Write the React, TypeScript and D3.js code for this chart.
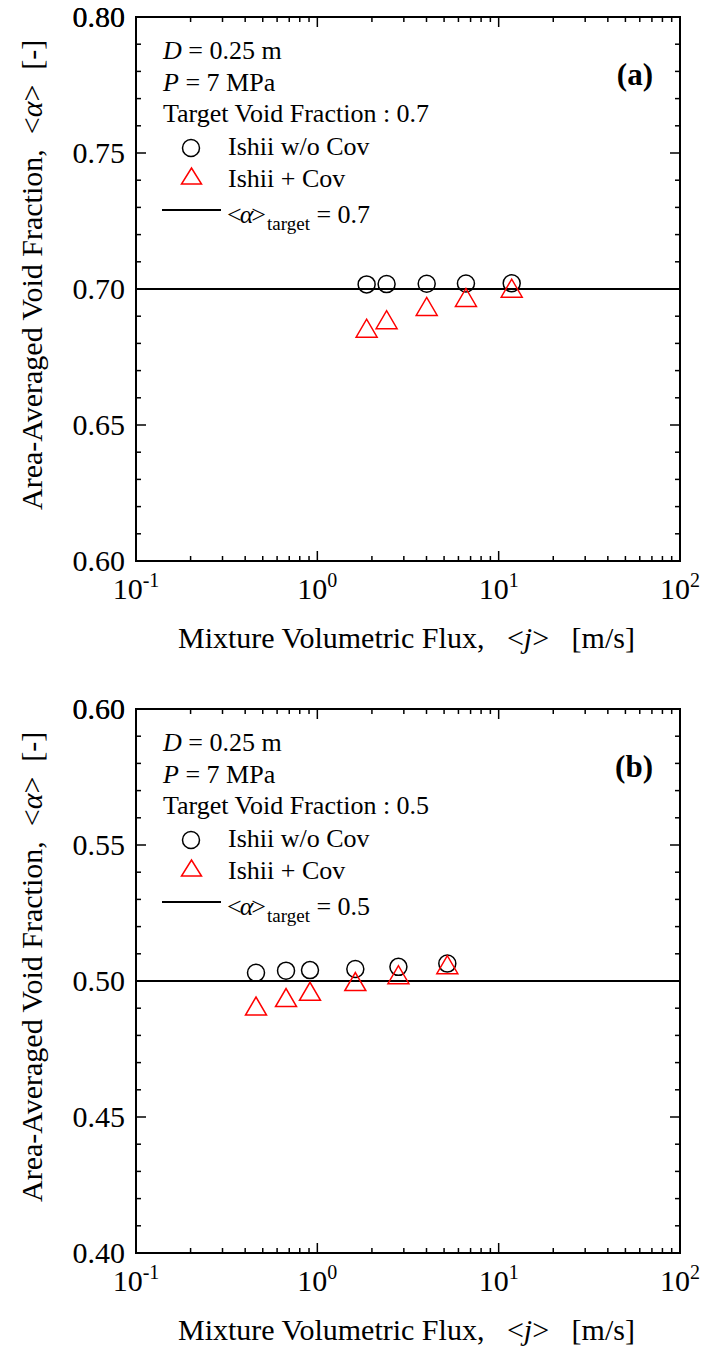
import React from "react";
import * as d3 from "d3";

// ---------- data ----------
const X_DECADES = [0.1, 1, 10, 100];
const X_SUPERS = ["-1", "0", "1", "2"];

const A_FLUX = [1.87, 2.41, 4.01, 6.6, 11.8];
const A_WO_COV = [0.7017, 0.7018, 0.7019, 0.702, 0.7021];
const A_WITH_COV = [0.6856, 0.6887, 0.6936, 0.6969, 0.7003];
const A_TARGET = 0.7;
const A_YDOMAIN: [number, number] = [0.6, 0.8];

const B_FLUX = [0.459, 0.672, 0.911, 1.62, 2.8, 5.21];
const B_WO_COV = [0.503, 0.5038, 0.504, 0.5044, 0.5052, 0.5064];
const B_WITH_COV = [0.4908, 0.4939, 0.4962, 0.4998, 0.5023, 0.506];
const B_TARGET = 0.5;
const B_YDOMAIN: [number, number] = [0.4, 0.6];

const LEGEND_D = "0.25 m";
const LEGEND_P = "7 MPa";
const SERIES_NAMES = ["Ishii w/o Cov", "Ishii + Cov"];

// ---------- layout ----------
const W = 704;
const H = 1348;
const LEFT = 136;
const PW = 544;
const PH = 544;
const FONT = "Liberation Serif, Times New Roman, serif";

type PanelProps = {
  top: number;
  yDomain: [number, number];
  flux: number[];
  woCov: number[];
  withCov: number[];
  target: number;
  tag: string;
};

function triPath(cx: number, cy: number, w: number, h: number) {
  return `M${cx - w / 2},${cy + h / 2}L${cx + w / 2},${cy + h / 2}L${cx},${cy - h / 2}Z`;
}

function Panel({ top, yDomain, flux, woCov, withCov, target, tag }: PanelProps) {
  const x = d3.scaleLog().domain([0.1, 100]).range([LEFT, LEFT + PW]);
  const y = d3.scaleLinear().domain(yDomain).range([top + PH, top]);
  const bottom = top + PH;
  const right = LEFT + PW;

  const xMinor: number[] = [];
  X_DECADES.slice(0, 3).forEach((d) => {
    for (let k = 2; k <= 9; k++) xMinor.push(d * k);
  });
  const yMajor = d3.range(0, 5).map((i) => yDomain[0] + i * 0.05).concat([yDomain[1]]);
  const yMinor = d3
    .range(1, 20)
    .map((i) => yDomain[0] + i * 0.01)
    .filter((v) => Math.abs(Math.round(v * 100) % 5) !== 0);

  const MAJ = 10;
  const MIN = 5;

  return (
    <g>
      {/* x ticks */}
      {X_DECADES.map((v, i) => (
        <g key={"xM" + i}>
          <line x1={x(v)} x2={x(v)} y1={bottom} y2={bottom - MAJ} stroke="#000" strokeWidth={1.5} />
          <line x1={x(v)} x2={x(v)} y1={top} y2={top + MAJ} stroke="#000" strokeWidth={1.5} />
          <text x={x(v)} y={bottom + 38} textAnchor="middle" fontSize={30}>
            10<tspan fontSize={20} dy={-12}>{X_SUPERS[i]}</tspan>
          </text>
        </g>
      ))}
      {xMinor.map((v, i) => (
        <g key={"xm" + i}>
          <line x1={x(v)} x2={x(v)} y1={bottom} y2={bottom - MIN} stroke="#000" strokeWidth={1.5} />
          <line x1={x(v)} x2={x(v)} y1={top} y2={top + MIN} stroke="#000" strokeWidth={1.5} />
        </g>
      ))}
      {/* y ticks */}
      {yMajor.map((v, i) => (
        <g key={"yM" + i}>
          <line x1={LEFT} x2={LEFT + MAJ} y1={y(v)} y2={y(v)} stroke="#000" strokeWidth={1.5} />
          <line x1={right} x2={right - MAJ} y1={y(v)} y2={y(v)} stroke="#000" strokeWidth={1.5} />
          <text x={LEFT - 11} y={y(v)} dy="0.33em" textAnchor="end" fontSize={30}>
            {d3.format(".2f")(v)}
          </text>
        </g>
      ))}
      {yMinor.map((v, i) => (
        <g key={"ym" + i}>
          <line x1={LEFT} x2={LEFT + MIN} y1={y(v)} y2={y(v)} stroke="#000" strokeWidth={1.5} />
          <line x1={right} x2={right - MIN} y1={y(v)} y2={y(v)} stroke="#000" strokeWidth={1.5} />
        </g>
      ))}

      {/* target line */}
      <line x1={LEFT} x2={right} y1={y(target)} y2={y(target)} stroke="#000" strokeWidth={2} />

      {/* data */}
      {flux.map((f, i) => (
        <circle key={"c" + i} cx={x(f)} cy={y(woCov[i])} r={8.5} fill="none" stroke="#000" strokeWidth={1.5} />
      ))}
      {flux.map((f, i) => (
        <path key={"t" + i} d={triPath(x(f), y(withCov[i]), 21, 18)} fill="none" stroke="#ff0000" strokeWidth={1.5} />
      ))}

      {/* frame */}
      <rect x={LEFT} y={top} width={PW} height={PH} fill="none" stroke="#000" strokeWidth={2} />

      {/* legend */}
      <g fontSize={26}>
        <text x={163} y={top + 42}>
          <tspan fontStyle="italic">D</tspan> = {LEGEND_D}
        </text>
        <text x={163} y={top + 74}>
          <tspan fontStyle="italic">P</tspan> = {LEGEND_P}
        </text>
        <text x={163} y={top + 105}>Target Void Fraction : {target.toFixed(1)}</text>
        <circle cx={191} cy={top + 131} r={8.5} fill="none" stroke="#000" strokeWidth={1.5} />
        <text x={228} y={top + 138}>{SERIES_NAMES[0]}</text>
        <path d={triPath(191.5, top + 159, 20, 16)} fill="none" stroke="#ff0000" strokeWidth={1.5} />
        <text x={228} y={top + 170}>{SERIES_NAMES[1]}</text>
        <line x1={162} x2={221} y1={top + 193} y2={top + 193} stroke="#000" strokeWidth={2} />
        <text x={227} y={top + 206}>
          {"<"}
          <tspan fontStyle="italic" dx={-2}>α</tspan>
          <tspan dx={-2}>{">"}</tspan>
          <tspan fontSize={19} dy={7} dx={1}>target</tspan>
          <tspan dy={-7}> = {target.toFixed(1)}</tspan>
        </text>
      </g>
      <text x={653} y={top + 68} textAnchor="end" fontSize={31} fontWeight="bold">
        {tag}
      </text>

      {/* axis titles */}
      <text x={178} y={bottom + 87} fontSize={30} style={{ whiteSpace: "pre" }}>
        {"Mixture Volumetric Flux,   <"}
        <tspan fontStyle="italic">j</tspan>
        {">   [m/s]"}
      </text>
      <text transform={`translate(42,${top + 493}) rotate(-90)`} fontSize={30} style={{ whiteSpace: "pre" }}>
        {"Area-Averaged Void Fraction,  <"}
        <tspan fontStyle="italic">α</tspan>
        {">  [-]"}
      </text>
    </g>
  );
}

export default function App() {
  return (
    <svg
      width={W}
      height={H}
      fontFamily={FONT}
      style={{ display: "block", position: "absolute", left: 0, top: 0, background: "#fff" }}
    >
      <rect x={0} y={0} width={W} height={H} fill="#fff" />
      <Panel top={17} yDomain={A_YDOMAIN} flux={A_FLUX} woCov={A_WO_COV} withCov={A_WITH_COV} target={A_TARGET} tag="(a)" />
      <Panel top={709} yDomain={B_YDOMAIN} flux={B_FLUX} woCov={B_WO_COV} withCov={B_WITH_COV} target={B_TARGET} tag="(b)" />
    </svg>
  );
}
